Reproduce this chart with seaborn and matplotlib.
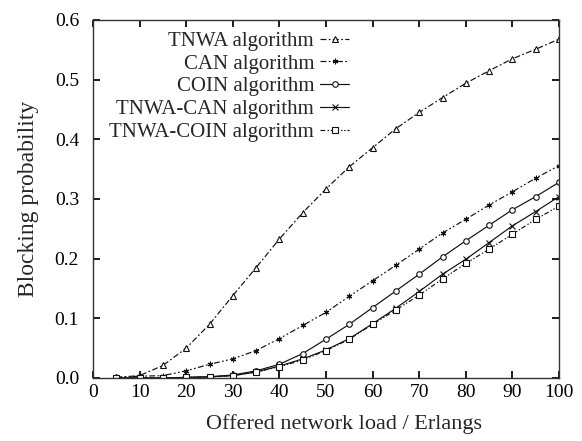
import pandas as pd
import matplotlib
matplotlib.use("Agg")
import matplotlib.pyplot as plt
import seaborn as sns

# Offered load (Erlangs)
load = [5, 10, 15, 20, 25, 30, 35, 40, 45, 50, 55, 60, 65, 70, 75, 80, 85, 90, 95, 100]

# Blocking probability per algorithm
tnwa = [0.001, 0.004, 0.021, 0.050, 0.090, 0.138, 0.185, 0.233, 0.277, 0.317,
        0.354, 0.386, 0.418, 0.445, 0.470, 0.494, 0.515, 0.535, 0.551, 0.568]
can = [0.001, 0.003, 0.004, 0.012, 0.023, 0.032, 0.046, 0.066, 0.088, 0.110,
       0.137, 0.163, 0.189, 0.216, 0.243, 0.266, 0.290, 0.312, 0.335, 0.356]
coin = [0.000, 0.000, 0.000, 0.001, 0.002, 0.005, 0.012, 0.023, 0.041, 0.065,
        0.090, 0.118, 0.146, 0.174, 0.203, 0.230, 0.256, 0.282, 0.304, 0.328]
tnwa_can = [0.000, 0.000, 0.000, 0.001, 0.002, 0.004, 0.010, 0.020, 0.032, 0.047,
            0.066, 0.091, 0.117, 0.145, 0.174, 0.199, 0.227, 0.255, 0.279, 0.304]
tnwa_coin = [0.000, 0.000, 0.000, 0.001, 0.002, 0.004, 0.010, 0.019, 0.030, 0.046,
             0.065, 0.090, 0.114, 0.139, 0.166, 0.192, 0.216, 0.241, 0.266, 0.288]

labels = ["TNWA algorithm", "CAN algorithm", "COIN algorithm",
          "TNWA-CAN algorithm", "TNWA-COIN algorithm"]
series = [tnwa, can, coin, tnwa_can, tnwa_coin]

x_ticks = [0, 10, 20, 30, 40, 50, 60, 70, 80, 90, 100]
y_ticks = [0.0, 0.1, 0.2, 0.3, 0.4, 0.5, 0.6]

sns.set_theme(style="ticks")
plt.rcParams.update({
    "font.family": ["Liberation Serif", "DejaVu Serif"],
    "font.size": 14,
    "axes.edgecolor": "#333333",
    "axes.linewidth": 1.0,
    "xtick.direction": "in",
    "ytick.direction": "in",
    "xtick.top": True,
    "ytick.right": True,
    "xtick.major.size": 5,
    "ytick.major.size": 5,
    "xtick.color": "black",
    "ytick.color": "black",
})

styles = [
    dict(marker="^", linestyle=(0, (5, 2, 1.5, 2))),
    dict(marker=(6, 2, 0), linestyle=(0, (5, 2, 1.5, 2, 1.5, 2))),
    dict(marker="o", linestyle="-"),
    dict(marker="x", linestyle="-"),
    dict(marker="s", linestyle=(0, (4, 2, 1.2, 1.5, 1.2, 1.5))),
]

fig = plt.figure(figsize=(5.82, 4.41), dpi=100)
ax = fig.add_axes([93 / 582, 1 - 378 / 441, 466 / 582, 358 / 441])

for vals, lab, st in zip(series, labels, styles):
    df = pd.DataFrame({"load": load, "bp": vals})
    sns.lineplot(data=df, x="load", y="bp", ax=ax, color="#111111", lw=0.85,
                 marker=st["marker"], linestyle=st["linestyle"], markersize=4,
                 markerfacecolor="white", markeredgecolor="#111111",
                 markeredgewidth=0.8, label=lab)

ax.set_xlim(0, 100)
ax.set_ylim(0, 0.6)
ax.set_xticks(x_ticks)
ax.set_yticks(y_ticks)
ax.set_yticklabels([f"{v:.1f}" for v in y_ticks])
ax.tick_params(axis="x", labelsize=14, pad=4)
ax.tick_params(axis="y", labelsize=14, pad=10)
ax.set_xlabel("Offered network load / Erlangs", fontsize=16)
ax.xaxis.set_label_coords(0.539, -0.102)
ax.set_ylabel("Blocking probability", fontsize=17, labelpad=11)

ax.legend(loc="upper right", bbox_to_anchor=(0.575, 1.0), frameon=False,
          markerfirst=False, handlelength=1.4, handletextpad=0.3,
          labelspacing=0.15, borderaxespad=0.15, fontsize=15)

fig.savefig("out.png", dpi=100)
